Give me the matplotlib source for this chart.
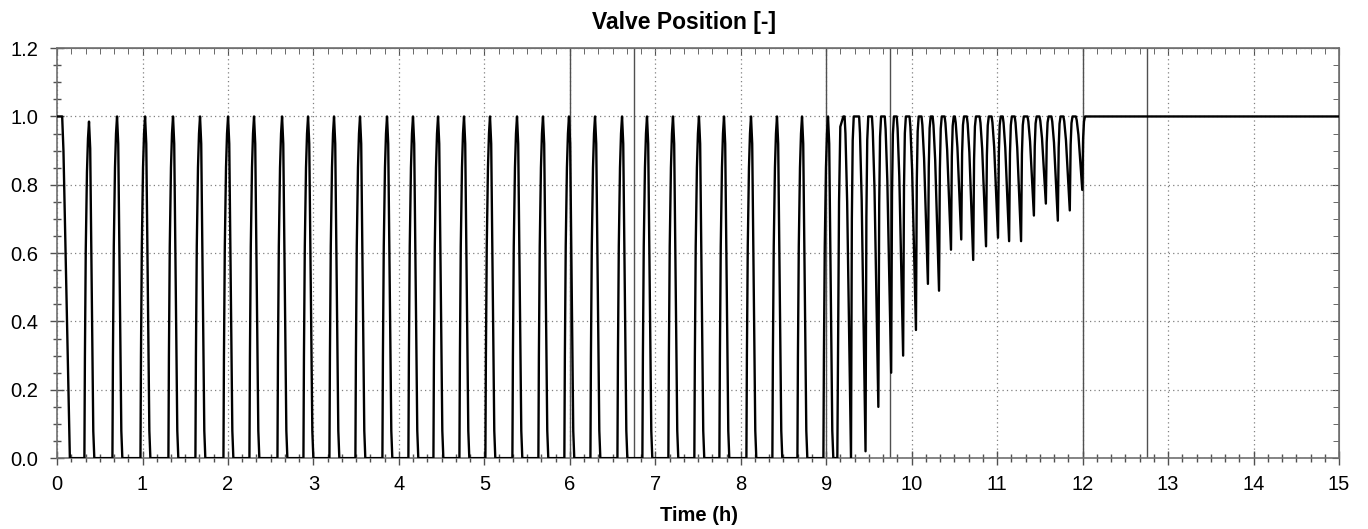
import matplotlib
matplotlib.use("Agg")
import matplotlib.pyplot as plt
from matplotlib.ticker import MultipleLocator, FormatStrFormatter

plt.rcParams['font.family'] = ['Liberation Sans', 'DejaVu Sans']

# ---------------- data ----------------
# initial state: fully open, then closing
start_t = [0.0, 0.06, 0.075, 0.10, 0.125, 0.15]
start_y = [1.0, 1.0, 0.90, 0.60, 0.30, 0.0]

# regular on/off cycles (0 - 9 h): peak times and peak values
peak_t = [0.374, 0.702, 1.030, 1.357, 1.673, 2.001, 2.305, 2.633, 2.937,
          3.241, 3.545, 3.861, 4.165, 4.458, 4.762, 5.066, 5.382, 5.686,
          5.990, 6.295, 6.611, 6.903, 7.207, 7.511, 7.804, 8.120, 8.424,
          8.717, 9.021]
peak_v = [0.985] + [1.0] * 28

# shape of one regular pulse (offset from peak in h, value as fraction of peak)
pulse_dt = [-0.054, -0.048, -0.038, -0.024, -0.012, 0.0, 0.014, 0.030, 0.050, 0.062]
pulse_f = [0.0, 0.30, 0.62, 0.85, 0.95, 1.0, 0.92, 0.55, 0.08, 0.0]

# transition into fast modulation (9 - 12 h)
trans_t = [9.13, 9.15, 9.165, 9.20]
trans_y = [0.0, 0.75, 0.97, 1.0]

trough_t = [9.29, 9.46, 9.61, 9.76, 9.90, 10.05, 10.19, 10.32, 10.46, 10.58,
            10.72, 10.87, 11.01, 11.14, 11.28, 11.43, 11.57, 11.71, 11.85, 11.996]
trough_v = [0.0, 0.02, 0.15, 0.25, 0.30, 0.375, 0.51, 0.49, 0.61, 0.64,
            0.58, 0.62, 0.645, 0.635, 0.635, 0.71, 0.745, 0.695, 0.725, 0.785]

# shape of one dip (offset from trough in h, fraction of the way from min to 1)
dip_dt = [-0.075, -0.065, -0.045, 0.0, 0.010, 0.020, 0.032]
dip_f = [1.0, 0.95, 0.75, 0.0, 0.70, 0.93, 1.0]

end_t = [12.03, 15.0]
end_y = [1.0, 1.0]

marker_lines = [6.0, 6.75, 9.0, 9.75, 12.0, 12.75]

# ---------------- build the curve ----------------
xs = list(start_t)
ys = list(start_y)
for tp, pv in zip(peak_t, peak_v):
    for dt, f in zip(pulse_dt, pulse_f):
        xs.append(tp + dt)
        ys.append(pv * f)
xs += trans_t
ys += trans_y
for tm, mv in zip(trough_t, trough_v):
    for dt, f in zip(dip_dt, dip_f):
        xs.append(tm + dt)
        ys.append(mv + (1.0 - mv) * f)
xs += end_t
ys += end_y

# ---------------- figure ----------------
fig = plt.figure(figsize=(13.68, 5.29), dpi=100)
ax = fig.add_axes([0.0417, 0.134, 0.9371, 0.775])

for xv in marker_lines:
    ax.axvline(xv, color='#505050', lw=1.0, zorder=2)

ax.plot(xs, ys, color='black', lw=1.7, zorder=3)

ax.set_xlim(0, 15)
ax.set_ylim(0, 1.2)
ax.xaxis.set_major_locator(MultipleLocator(1))
ax.xaxis.set_minor_locator(MultipleLocator(1 / 6))
ax.yaxis.set_major_locator(MultipleLocator(0.2))
ax.yaxis.set_minor_locator(MultipleLocator(0.05))
ax.yaxis.set_major_formatter(FormatStrFormatter('%.1f'))

ax.grid(True, which='major', color='#808080', linestyle=(0, (1, 2.5)), lw=0.9)
ax.set_axisbelow(True)

ax.tick_params(which='major', direction='inout', length=10, width=1, color='#505050',
               labelsize=14.5)
ax.tick_params(axis='x', which='major', pad=7)
ax.tick_params(axis='y', which='major', pad=8.5)
ax.tick_params(which='minor', direction='inout', length=6, width=1, color='#505050')

for s in ax.spines.values():
    s.set_color('#707070')
    s.set_linewidth(1.2)

secx = ax.secondary_xaxis('top')
secx.xaxis.set_major_locator(MultipleLocator(1))
secx.xaxis.set_minor_locator(MultipleLocator(1 / 6))
secx.tick_params(which='major', direction='in', length=5, color='#505050', labeltop=False)
secx.tick_params(which='minor', direction='in', length=4, color='#505050')
secx.spines['top'].set_color('#707070')

secy = ax.secondary_yaxis('right')
secy.yaxis.set_major_locator(MultipleLocator(0.2))
secy.yaxis.set_minor_locator(MultipleLocator(0.05))
secy.tick_params(which='major', direction='in', length=5, color='#505050', labelright=False)
secy.tick_params(which='minor', direction='in', length=4, color='#505050')
secy.spines['right'].set_color('#707070')

fig.text(0.5, 0.958, 'Valve Position [-]', ha='center', va='center',
         fontsize=16.5, fontweight='bold')
fig.text(0.511, 0.025, 'Time (h)', ha='center', va='center',
         fontsize=14.5, fontweight='bold')

fig.savefig('out.png', dpi=100)
